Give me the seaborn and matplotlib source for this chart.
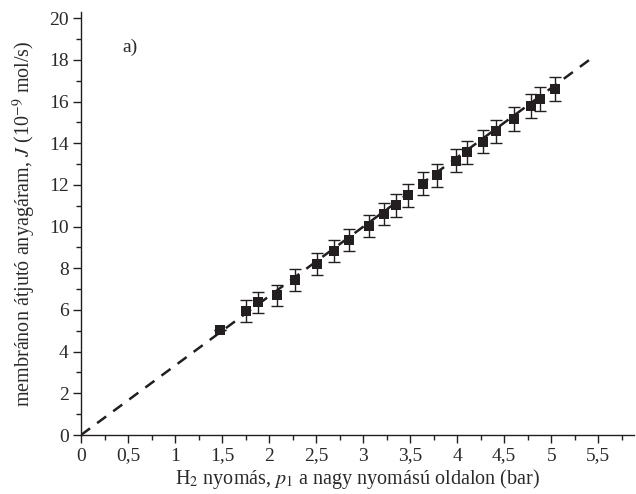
import matplotlib
matplotlib.use("Agg")
import matplotlib.pyplot as plt
import seaborn as sns
import pandas as pd
from matplotlib.ticker import MultipleLocator, FuncFormatter

# Data
pressure = [1.48, 1.75, 1.88, 2.08, 2.28, 2.51, 2.69, 2.85, 3.06, 3.22, 3.35, 3.48,
            3.64, 3.78, 3.99, 4.10, 4.27, 4.41, 4.60, 4.79, 4.88, 5.04]
flux = [5.04, 5.95, 6.36, 6.70, 7.43, 8.20, 8.82, 9.38, 10.05, 10.60, 11.02, 11.50,
        12.05, 12.47, 13.16, 13.56, 14.08, 14.57, 15.16, 15.80, 16.12, 16.62]
flux_err = [0.0, 0.52, 0.52, 0.52, 0.52, 0.52, 0.53, 0.53, 0.53, 0.54, 0.54, 0.55,
            0.55, 0.55, 0.56, 0.56, 0.57, 0.57, 0.58, 0.58, 0.58, 0.58]
fit_x = [0.0, 5.42]
fit_y = [0.0, 18.05]

df = pd.DataFrame({"p": pressure, "J": flux})
fit = pd.DataFrame({"p": fit_x, "J": fit_y})

sns.set_style("ticks")
plt.rcParams["font.family"] = ["Liberation Serif", "DejaVu Serif"]
plt.rcParams["mathtext.fontset"] = "stix"

ink = "#231f20"
txt = "#2a2a2a"
fig = plt.figure(figsize=(6.36, 4.94), dpi=100)
ax = fig.add_axes([81 / 636, 59 / 494, 553 / 636, 423 / 494])

sns.lineplot(data=fit, x="p", y="J", ax=ax, color=ink, lw=1.8,
             linestyle=(0, (4.5, 3.5)), zorder=2)
ax.errorbar(pressure, flux, yerr=flux_err, fmt="none", ecolor=ink,
            elinewidth=1.0, capsize=4, capthick=1.0, zorder=3)
sns.scatterplot(data=df, x="p", y="J", ax=ax, marker="s", s=62, color=ink,
                edgecolor=ink, linewidth=0, zorder=4)

ax.set_xlim(0, 5.88)
ax.set_ylim(0, 20.3)
ax.xaxis.set_major_locator(MultipleLocator(0.5))
ax.xaxis.set_minor_locator(MultipleLocator(0.25))
ax.yaxis.set_major_locator(MultipleLocator(2))
ax.yaxis.set_minor_locator(MultipleLocator(1))

def fmt(v, pos):
    s = f"{v:g}"
    return s.replace(".", ",")

ax.xaxis.set_major_formatter(FuncFormatter(fmt))
ax.yaxis.set_major_formatter(FuncFormatter(fmt))

for side in ["top", "right"]:
    ax.spines[side].set_visible(False)
for side in ["left", "bottom"]:
    ax.spines[side].set_color(ink)
    ax.spines[side].set_linewidth(1.0)

ax.tick_params(which="major", direction="out", length=6, width=1.0, color=ink,
               labelsize=14, labelcolor=txt, pad=3)
ax.tick_params(which="minor", direction="out", length=3.5, width=1.0, color=ink)

ax.set_xlabel(r"H$_2$ nyomás, $p_1$ a nagy nyomású oldalon (bar)",
              fontsize=14.5, color=txt, labelpad=2)
ax.set_ylabel(r"membránon átjutó anyagáram, $J$ (10$^{-9}$ mol/s)",
              fontsize=14.5, color=txt, labelpad=8)

ax.text(0.52, 18.6, "a)", fontsize=14, color=txt, ha="center", va="center")

fig.savefig("out.png", dpi=100)
